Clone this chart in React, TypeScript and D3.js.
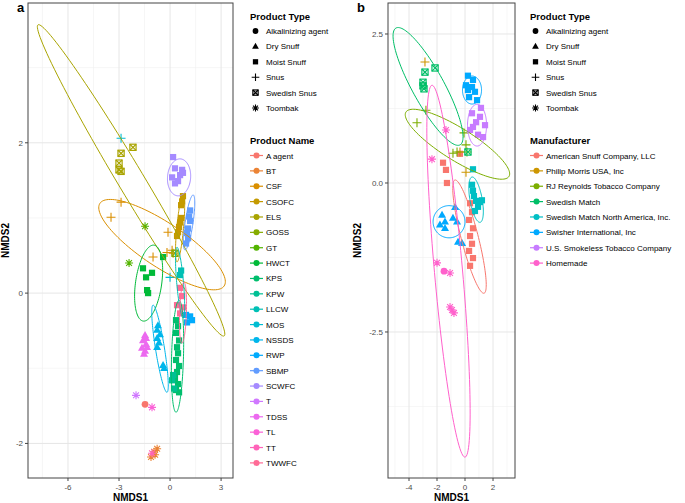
import * as d3 from 'd3';

const productTypes = ['Alkalinizing agent', 'Dry Snuff', 'Moist Snuff', 'Snus', 'Swedish Snus', 'Toombak'];

const productNames = [
  'A agent', 'BT', 'CSF', 'CSOFC', 'ELS', 'GOSS', 'GT', 'HWCT', 'KPS', 'KPW', 'LLCW',
  'MOS', 'NSSDS', 'RWP', 'SBMP', 'SCWFC', 'T', 'TDSS', 'TL', 'TT', 'TWWFC',
];

const manufacturers = [
  'American Snuff Company, LLC', 'Philip Morris USA, Inc', 'RJ Reynolds Tobacco Company',
  'Swedish Match', 'Swedish Match North America, Inc.', 'Swisher International, Inc',
  'U.S. Smokeless Tobacco Company', 'Homemade',
];

// [product name, product type, NMDS1, NMDS2]
const pointsA: [string, string, number, number][] = [
  ['A agent', 'Alkalinizing agent', -1.47, -1.48],
  ['BT', 'Toombak', -0.94, -2.11], ['BT', 'Toombak', -0.76, -2.07], ['BT', 'Toombak', -1.12, -2.18], ['BT', 'Toombak', -0.88, -2.15],
  ['CSF', 'Snus', -2.88, 1.21], ['CSF', 'Snus', -3.47, 1.01], ['CSF', 'Snus', -0.12, 0.81], ['CSF', 'Snus', 0.12, 0.57],
  ['CSF', 'Snus', -1.0, 0.48], ['CSF', 'Snus', 0.18, 0.53], ['CSF', 'Snus', -0.18, 0.54],
  ['CSOFC', 'Moist Snuff', 0.76, 1.29], ['CSOFC', 'Moist Snuff', 0.71, 1.22], ['CSOFC', 'Moist Snuff', 0.65, 1.17],
  ['CSOFC', 'Moist Snuff', 0.59, 0.94], ['CSOFC', 'Moist Snuff', 0.53, 0.88], ['CSOFC', 'Moist Snuff', 0.47, 0.81],
  ['CSOFC', 'Moist Snuff', 0.65, 1.0], ['CSOFC', 'Moist Snuff', 0.41, 0.76],
  ['ELS', 'Swedish Snus', -2.18, 1.94], ['ELS', 'Swedish Snus', -2.88, 1.86], ['ELS', 'Swedish Snus', -3.0, 1.73],
  ['ELS', 'Swedish Snus', -3.0, 1.64], ['ELS', 'Swedish Snus', -2.88, 1.62],
  ['GOSS', 'Swedish Snus', 0.29, 0.53],
  ['GT', 'Toombak', -1.47, 0.89], ['GT', 'Toombak', -2.41, 0.4],
  ['HWCT', 'Moist Snuff', -0.41, 0.48], ['HWCT', 'Moist Snuff', -1.59, 0.33], ['HWCT', 'Moist Snuff', -1.06, 0.27],
  ['HWCT', 'Moist Snuff', -1.41, 0.21], ['HWCT', 'Moist Snuff', -1.29, 0.0], ['HWCT', 'Moist Snuff', -1.35, 0.04],
  ['KPS', 'Moist Snuff', 0.35, -0.36], ['KPS', 'Moist Snuff', 0.47, -0.44], ['KPS', 'Moist Snuff', 0.35, -0.53],
  ['KPS', 'Moist Snuff', 0.53, -0.63], ['KPS', 'Moist Snuff', 0.41, -0.72], ['KPS', 'Moist Snuff', 0.47, -0.8],
  ['KPS', 'Moist Snuff', 0.35, -0.89], ['KPS', 'Moist Snuff', 0.53, -0.97], ['KPS', 'Moist Snuff', 0.41, -1.05],
  ['KPS', 'Moist Snuff', 0.29, -1.13], ['KPS', 'Moist Snuff', 0.47, -1.21], ['KPS', 'Moist Snuff', 0.35, -1.29],
  ['KPS', 'Moist Snuff', 0.53, -1.32],
  ['KPW', 'Moist Snuff', 0.12, -1.16], ['KPW', 'Moist Snuff', 0.24, -1.27], ['KPW', 'Moist Snuff', 0.18, -1.09],
  ['LLCW', 'Moist Snuff', 0.59, 0.24], ['LLCW', 'Moist Snuff', 0.65, 0.3],
  ['MOS', 'Snus', -2.88, 2.06], ['MOS', 'Snus', 0.0, 0.21],
  ['NSSDS', 'Dry Snuff', -0.71, -0.43], ['NSSDS', 'Dry Snuff', -0.76, -0.49], ['NSSDS', 'Dry Snuff', -0.59, -0.55],
  ['NSSDS', 'Dry Snuff', -0.76, -0.6], ['NSSDS', 'Dry Snuff', -0.65, -0.66], ['NSSDS', 'Dry Snuff', -0.76, -0.72],
  ['NSSDS', 'Dry Snuff', -0.41, -0.96], ['NSSDS', 'Dry Snuff', -0.35, -1.0],
  ['RWP', 'Moist Snuff', 0.94, -0.29], ['RWP', 'Moist Snuff', 1.18, -0.31], ['RWP', 'Moist Snuff', 1.29, -0.36],
  ['RWP', 'Moist Snuff', 1.0, -0.39],
  ['SBMP', 'Moist Snuff', 1.18, 1.1], ['SBMP', 'Moist Snuff', 1.12, 1.02], ['SBMP', 'Moist Snuff', 1.18, 0.96],
  ['SBMP', 'Moist Snuff', 1.06, 0.86], ['SBMP', 'Moist Snuff', 1.0, 0.8], ['SBMP', 'Moist Snuff', 1.06, 0.73],
  ['SBMP', 'Moist Snuff', 0.94, 0.66],
  ['SCWFC', 'Moist Snuff', 0.18, 1.81], ['SCWFC', 'Moist Snuff', 0.29, 1.66], ['SCWFC', 'Moist Snuff', 0.71, 1.64],
  ['SCWFC', 'Moist Snuff', 0.12, 1.54], ['SCWFC', 'Moist Snuff', 0.59, 1.57], ['SCWFC', 'Moist Snuff', 0.47, 1.49],
  ['SCWFC', 'Moist Snuff', 0.29, 1.46], ['SCWFC', 'Moist Snuff', 0.76, 1.6],
  ['T', 'Toombak', -2.0, -1.36],
  ['TDSS', 'Dry Snuff', -1.47, -0.56], ['TDSS', 'Dry Snuff', -1.59, -0.63], ['TDSS', 'Dry Snuff', -1.41, -0.68],
  ['TDSS', 'Dry Snuff', -1.65, -0.73], ['TDSS', 'Dry Snuff', -1.47, -0.77], ['TDSS', 'Dry Snuff', -1.35, -0.72],
  ['TDSS', 'Dry Snuff', -1.53, -0.81], ['TDSS', 'Dry Snuff', -1.41, -0.6],
  ['TL', 'Toombak', -1.06, -1.52],
  ['TT', 'Toombak', -1.06, -2.13],
  ['TWWFC', 'Moist Snuff', 0.59, 0.07], ['TWWFC', 'Moist Snuff', 0.41, -0.16], ['TWWFC', 'Moist Snuff', 0.76, -0.19],
  ['TWWFC', 'Moist Snuff', 0.59, -0.27], ['TWWFC', 'Moist Snuff', 0.71, -0.04],
];

// [group, centre x, centre y, half axis 1 (x, y), half axis 2 (x, y)]
const ellipsesA: [string, number, number, number, number, number, number][] = [
  ['CSF', -0.47, 0.645, 3.65, -0.55, -0.72, -0.243],
  ['CSOFC', 0.59, 0.86, 0.18, 0.445, 0.2, 0],
  ['ELS', -2.29, 1.5, 5.47, -2.07, 0.66, 0.089],
  ['HWCT', -1.26, 0.133, 0.32, 0.505, 0.76, -0.025],
  ['KPS', 0.44, -0.84, 0.088, 0.745, 0.35, 0],
  ['LLCW', 0.59, 0.14, 0.18, -0.47, 0.2, 0],
  ['NSSDS', -0.59, -0.74, 0.41, -0.58, 0.26, 0.01],
  ['SBMP', 1.12, 0.94, 0.235, 0.366, 0.235, 0],
  ['SCWFC', 0.53, 1.54, 0.05, 0.246, 0.68, 0],
  ['TWWFC', 0.76, -0.26, 0.06, 0.405, 0.2, 0],
];

const pointsB: [string, string, number, number][] = [
  ['American Snuff Company, LLC', 'Moist Snuff', -1.57, 0.34], ['American Snuff Company, LLC', 'Moist Snuff', -1.36, 0.22],
  ['American Snuff Company, LLC', 'Moist Snuff', -1.29, 0.0], ['American Snuff Company, LLC', 'Moist Snuff', -0.36, 0.49],
  ['American Snuff Company, LLC', 'Moist Snuff', 0.36, -0.34], ['American Snuff Company, LLC', 'Moist Snuff', 0.5, -0.49],
  ['American Snuff Company, LLC', 'Moist Snuff', 0.29, -0.62], ['American Snuff Company, LLC', 'Moist Snuff', 0.57, -0.76],
  ['American Snuff Company, LLC', 'Moist Snuff', 0.36, -0.89], ['American Snuff Company, LLC', 'Moist Snuff', 0.5, -1.02],
  ['American Snuff Company, LLC', 'Moist Snuff', 0.29, -1.14], ['American Snuff Company, LLC', 'Moist Snuff', 0.57, -1.26],
  ['American Snuff Company, LLC', 'Moist Snuff', 0.36, -1.39],
  ['Philip Morris USA, Inc', 'Snus', -2.86, 2.03], ['Philip Morris USA, Inc', 'Snus', -0.36, 0.52],
  ['Philip Morris USA, Inc', 'Snus', 0.07, 0.18],
  ['RJ Reynolds Tobacco Company', 'Snus', -3.43, 1.01], ['RJ Reynolds Tobacco Company', 'Snus', -2.79, 1.22],
  ['RJ Reynolds Tobacco Company', 'Snus', -0.07, 0.84], ['RJ Reynolds Tobacco Company', 'Snus', 0.07, 0.64],
  ['RJ Reynolds Tobacco Company', 'Snus', 0.14, 0.52], ['RJ Reynolds Tobacco Company', 'Snus', -0.86, 0.5],
  ['RJ Reynolds Tobacco Company', 'Snus', -0.57, 0.52],
  ['Swedish Match', 'Swedish Snus', -2.86, 1.86], ['Swedish Match', 'Swedish Snus', -2.14, 1.93],
  ['Swedish Match', 'Swedish Snus', -3.0, 1.69], ['Swedish Match', 'Swedish Snus', -3.0, 1.63],
  ['Swedish Match', 'Swedish Snus', -2.93, 1.58], ['Swedish Match', 'Swedish Snus', 0.21, 0.52],
  ['Swedish Match North America, Inc.', 'Moist Snuff', 0.57, 0.23], ['Swedish Match North America, Inc.', 'Moist Snuff', 0.5, -0.03],
  ['Swedish Match North America, Inc.', 'Moist Snuff', 0.57, -0.13], ['Swedish Match North America, Inc.', 'Moist Snuff', 0.64, -0.22],
  ['Swedish Match North America, Inc.', 'Moist Snuff', 0.79, -0.3], ['Swedish Match North America, Inc.', 'Moist Snuff', 1.07, -0.32],
  ['Swedish Match North America, Inc.', 'Moist Snuff', 1.21, -0.29], ['Swedish Match North America, Inc.', 'Moist Snuff', 0.93, -0.4],
  ['Swedish Match North America, Inc.', 'Moist Snuff', 0.71, -0.47],
  ['Swisher International, Inc', 'Moist Snuff', 0.21, 1.8], ['Swisher International, Inc', 'Moist Snuff', 0.5, 1.61],
  ['Swisher International, Inc', 'Moist Snuff', 0.21, 1.56], ['Swisher International, Inc', 'Moist Snuff', 0.71, 1.53],
  ['Swisher International, Inc', 'Moist Snuff', 0.29, 1.44], ['Swisher International, Inc', 'Moist Snuff', 0.86, 1.39],
  ['Swisher International, Inc', 'Moist Snuff', 0.07, 1.64], ['Swisher International, Inc', 'Moist Snuff', 0.57, 1.73],
  ['Swisher International, Inc', 'Dry Snuff', -1.64, -0.54], ['Swisher International, Inc', 'Dry Snuff', -1.43, -0.65],
  ['Swisher International, Inc', 'Dry Snuff', -1.79, -0.7], ['Swisher International, Inc', 'Dry Snuff', -1.43, -0.76],
  ['Swisher International, Inc', 'Dry Snuff', -0.71, -0.41], ['Swisher International, Inc', 'Dry Snuff', -0.86, -0.59],
  ['Swisher International, Inc', 'Dry Snuff', -0.57, -0.65], ['Swisher International, Inc', 'Dry Snuff', -0.5, -0.99],
  ['Swisher International, Inc', 'Dry Snuff', -0.21, -1.01],
  ['U.S. Smokeless Tobacco Company', 'Moist Snuff', 0.5, 1.17], ['U.S. Smokeless Tobacco Company', 'Moist Snuff', 1.07, 1.11],
  ['U.S. Smokeless Tobacco Company', 'Moist Snuff', 0.57, 0.94], ['U.S. Smokeless Tobacco Company', 'Moist Snuff', 1.43, 0.97],
  ['U.S. Smokeless Tobacco Company', 'Moist Snuff', 0.93, 0.81], ['U.S. Smokeless Tobacco Company', 'Moist Snuff', 0.36, 0.89],
  ['U.S. Smokeless Tobacco Company', 'Moist Snuff', 1.29, 0.77], ['U.S. Smokeless Tobacco Company', 'Moist Snuff', 0.79, 1.02],
  ['U.S. Smokeless Tobacco Company', 'Moist Snuff', 1.14, 1.26],
  ['Homemade', 'Toombak', -1.36, 0.89], ['Homemade', 'Toombak', -2.36, 0.4], ['Homemade', 'Toombak', -2.0, -1.34],
  ['Homemade', 'Toombak', -1.07, -1.51], ['Homemade', 'Toombak', -0.93, -2.13], ['Homemade', 'Toombak', -1.07, -2.08],
  ['Homemade', 'Toombak', -0.79, -2.18], ['Homemade', 'Alkalinizing agent', -1.5, -1.48],
];

const ellipsesB: [string, number, number, number, number, number, number][] = [
  ['American Snuff Company, LLC', 0.32, -0.9, 1.04, -0.95, 0.59, 0.035],
  ['RJ Reynolds Tobacco Company', -0.54, 0.65, 3.68, -0.54, -0.6, -0.23],
  ['Swedish Match', -2.64, 1.62, 2.29, -0.98, 1.0, 0.13],
  ['Swedish Match North America, Inc.', 0.79, -0.28, 0.29, -0.38, 0.43, 0.017],
  ['Swisher International, Inc', 0.5, 1.56, 0, 0.235, 0.68, 0],
  ['Swisher International, Inc', -1.14, -0.65, 1.14, 0, 0, 0.27],
  ['U.S. Smokeless Tobacco Company', 0.86, 0.97, 0, 0.35, 0.68, 0],
  ['Homemade', -1.18, -1.48, 1.18, -3.12, 1.0, 0.021],
];

// ggplot2 default hue palette (polar LUV, c = 100, l = 65)
function hueColor(h: number) {
  const l = 65, c = 100;
  const hr = (h * Math.PI) / 180;
  const U = c * Math.cos(hr), V = c * Math.sin(hr);
  const Xn = 95.047, Yn = 100, Zn = 108.883;
  const den = Xn + 15 * Yn + 3 * Zn;
  const un = (4 * Xn) / den, vn = (9 * Yn) / den;
  const Y = Yn * Math.pow((l + 16) / 116, 3);
  const u = U / (13 * l) + un, v = V / (13 * l) + vn;
  const X = (9 * Y * u) / (4 * v);
  const Z = -X / 3 - 5 * Y + (3 * Y) / v;
  const x = X / 100, y = Y / 100, z = Z / 100;
  const lin = [
    3.240479 * x - 1.53715 * y - 0.498535 * z,
    -0.969256 * x + 1.875992 * y + 0.041556 * z,
    0.055648 * x - 0.204043 * y + 1.057311 * z,
  ];
  const [r, g, b] = lin.map((t) => {
    const s = t <= 0.0031308 ? 12.92 * t : 1.055 * Math.pow(t, 1 / 2.4) - 0.055;
    return Math.round(255 * Math.max(0, Math.min(1, s)));
  });
  return d3.rgb(r, g, b).formatHex();
}

function huePalette(keys: string[]) {
  const n = keys.length;
  return d3.scaleOrdinal<string, string>()
    .domain(keys)
    .range(keys.map((_, i) => hueColor(15 + (360 * i) / n)));
}

const colorA = huePalette(productNames);
const colorB = huePalette(manufacturers);

const FONT = '"Liberation Sans", Arial, Helvetica, sans-serif';

function Mark({ type, x, y, color, k = 1 }: { type: string; x: number; y: number; color: string; k?: number }) {
  const s = 3.1 * k;
  if (type === 'Alkalinizing agent') return <circle cx={x} cy={y} r={3.4 * k} fill={color} />;
  if (type === 'Dry Snuff')
    return <path d={`M${x},${y - 4.3 * k}L${x + 4 * k},${y + 2.7 * k}L${x - 4 * k},${y + 2.7 * k}Z`} fill={color} />;
  if (type === 'Moist Snuff') return <rect x={x - s} y={y - s} width={2 * s} height={2 * s} fill={color} />;
  if (type === 'Snus')
    return (
      <path d={`M${x - 4.5 * k},${y}H${x + 4.5 * k}M${x},${y - 4.5 * k}V${y + 4.5 * k}`} stroke={color} strokeWidth={1.1} fill="none" />
    );
  if (type === 'Swedish Snus')
    return (
      <g stroke={color} strokeWidth={1.2} fill="none">
        <rect x={x - s} y={y - s} width={2 * s} height={2 * s} />
        <path d={`M${x - s},${y - s}L${x + s},${y + s}M${x + s},${y - s}L${x - s},${y + s}`} />
      </g>
    );
  const a = 4 * k, b = 2.9 * k;
  return (
    <path
      d={`M${x - a},${y}H${x + a}M${x},${y - a}V${y + a}M${x - b},${y - b}L${x + b},${y + b}M${x + b},${y - b}L${x - b},${y + b}`}
      stroke={color}
      strokeWidth={1.1}
      fill="none"
    />
  );
}

interface PanelProps {
  label: string;
  labelX: number;
  xRange: [number, number];
  yRange: [number, number];
  xDomain: [number, number];
  yDomain: [number, number];
  xTicks: number[];
  yTicks: number[];
  xMinor: number[];
  yMinor: number[];
  xFormat: (v: number) => string;
  yFormat: (v: number) => string;
  points: [string, string, number, number][];
  ellipses: [string, number, number, number, number, number, number][];
  color: (k: string) => string;
  yTitleX: number;
}

function Panel(p: PanelProps) {
  const x = d3.scaleLinear().domain(p.xDomain).range(p.xRange);
  const y = d3.scaleLinear().domain(p.yDomain).range(p.yRange);
  const [x0, x1] = p.xRange;
  const [y1, y0] = p.yRange;
  const line = d3
    .line<[number, number]>()
    .x((d) => x(d[0]))
    .y((d) => y(d[1]))
    .curve(d3.curveLinearClosed);
  const ts = d3.range(0, 120).map((i) => (i / 120) * Math.PI * 2);
  const dash = (s: string) => s.replace('−', '-');
  return (
    <g fontFamily={FONT}>
      <rect x={x0} y={y0} width={x1 - x0} height={y1 - y0} fill="#fff" />
      {p.xMinor.map((v) => (
        <line key={`xm${v}`} x1={x(v)} x2={x(v)} y1={y0} y2={y1} stroke="#f0f0f0" strokeWidth={0.6} />
      ))}
      {p.yMinor.map((v) => (
        <line key={`ym${v}`} x1={x0} x2={x1} y1={y(v)} y2={y(v)} stroke="#f0f0f0" strokeWidth={0.6} />
      ))}
      {p.xTicks.map((v) => (
        <line key={`xg${v}`} x1={x(v)} x2={x(v)} y1={y0} y2={y1} stroke="#e6e6e6" strokeWidth={1} />
      ))}
      {p.yTicks.map((v) => (
        <line key={`yg${v}`} x1={x0} x2={x1} y1={y(v)} y2={y(v)} stroke="#e6e6e6" strokeWidth={1} />
      ))}
      {p.points.map(([g, t, vx, vy], i) => (
        <Mark key={`p${i}`} type={t} x={x(vx)} y={y(vy)} color={p.color(g)} />
      ))}
      {p.ellipses.map(([g, cx, cy, ax, ay, bx, by], i) => (
        <path
          key={`e${i}`}
          d={line(ts.map((t) => [cx + ax * Math.cos(t) + bx * Math.sin(t), cy + ay * Math.cos(t) + by * Math.sin(t)])) || ''}
          fill="none"
          stroke={p.color(g)}
          strokeWidth={1}
        />
      ))}
      <rect x={x0} y={y0} width={x1 - x0} height={y1 - y0} fill="none" stroke="#444" strokeWidth={1} />
      {p.xTicks.map((v) => (
        <g key={`xt${v}`}>
          <line x1={x(v)} x2={x(v)} y1={y1} y2={y1 + 3} stroke="#444" />
          <text x={x(v)} y={y1 + 12} textAnchor="middle" fontSize={8} fill="#4d4d4d">
            {dash(p.xFormat(v))}
          </text>
        </g>
      ))}
      {p.yTicks.map((v) => (
        <g key={`yt${v}`}>
          <line x1={x0 - 3} x2={x0} y1={y(v)} y2={y(v)} stroke="#444" />
          <text x={x0 - 5} y={y(v) + 3} textAnchor="end" fontSize={8} fill="#4d4d4d">
            {dash(p.yFormat(v))}
          </text>
        </g>
      ))}
      <text x={(x0 + x1) / 2} y={501} textAnchor="middle" fontSize={10} fontWeight="bold">
        NMDS1
      </text>
      <text
        transform={`translate(${p.yTitleX},${(y0 + y1) / 2}) rotate(-90)`}
        textAnchor="middle"
        fontSize={10}
        fontWeight="bold"
      >
        NMDS2
      </text>
      <text x={p.labelX} y={12} fontSize={13} fontWeight="bold">
        {p.label}
      </text>
    </g>
  );
}

function Legend({ x, title, keys, color }: { x: number; title: string; keys: string[]; color: (k: string) => string }) {
  return (
    <g fontFamily={FONT}>
      <text x={x} y={20} fontSize={9.5} fontWeight="bold">
        Product Type
      </text>
      {productTypes.map((t, i) => (
        <g key={t}>
          <Mark type={t} x={x + 5.5} y={31 + i * 15.4} color="#000" k={0.85} />
          <text x={x + 16} y={31 + i * 15.4 + 3} fontSize={8}>
            {t}
          </text>
        </g>
      ))}
      <text x={x} y={144} fontSize={9.5} fontWeight="bold">
        {title}
      </text>
      {keys.map((k, i) => {
        const cy = 155.5 + i * 15.37;
        return (
          <g key={k}>
            <line x1={x} x2={x + 13} y1={cy} y2={cy} stroke={color(k)} strokeWidth={1.2} />
            <circle cx={x + 6.5} cy={cy} r={3} fill={color(k)} />
            <text x={x + 16} y={cy + 3} fontSize={8}>
              {k}
            </text>
          </g>
        );
      })}
    </g>
  );
}

export default function App() {
  const fInt = d3.format('d');
  const f1 = d3.format('.1f');
  return (
    <svg width={685} height={503} style={{ position: 'absolute', left: 0, top: 0, background: '#fff' }}>
      <rect width={685} height={503} fill="#fff" />
      <Panel
        label="a"
        labelX={17}
        xRange={[28, 233]}
        yRange={[478, 3]}
        xDomain={[-8.35, 3.7]}
        yDomain={[-2.46, 3.86]}
        xTicks={[-6, -3, 0, 3]}
        yTicks={[-2, 0, 2]}
        xMinor={[-7.5, -4.5, -1.5, 1.5]}
        yMinor={[-1, 1, 3]}
        xFormat={fInt}
        yFormat={fInt}
        points={pointsA}
        ellipses={ellipsesA}
        color={colorA}
        yTitleX={9}
      />
      <Legend x={250} title="Product Name" keys={productNames} color={colorA} />
      <Panel
        label="b"
        labelX={357}
        xRange={[388, 515]}
        yRange={[478, 3]}
        xDomain={[-5.5, 3.57]}
        yDomain={[-4.95, 3.02]}
        xTicks={[-4, -2, 0, 2]}
        yTicks={[-2.5, 0, 2.5]}
        xMinor={[-5, -3, -1, 1, 3]}
        yMinor={[-3.75, -1.25, 1.25]}
        xFormat={fInt}
        yFormat={f1}
        points={pointsB}
        ellipses={ellipsesB}
        color={colorB}
        yTitleX={361}
      />
      <Legend x={530} title="Manufacturer" keys={manufacturers} color={colorB} />
    </svg>
  );
}
